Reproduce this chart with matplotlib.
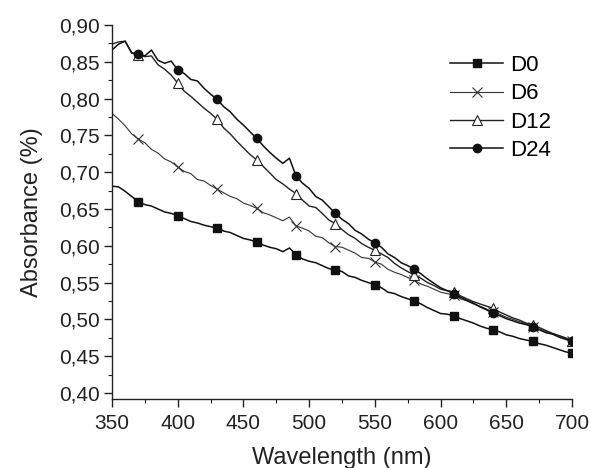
import numpy as np
import matplotlib
matplotlib.use('Agg')
import matplotlib.pyplot as plt
from matplotlib.ticker import MultipleLocator, FuncFormatter

plt.rcParams['font.family'] = ['Liberation Sans', 'DejaVu Sans']

# wavelength grid (nm), 5 nm steps
wavelength = np.arange(350, 701, 5)

d0 = [0.681, 0.680, 0.674, 0.667, 0.660, 0.656, 0.654, 0.650, 0.646, 0.644,
      0.641, 0.637, 0.633, 0.631, 0.628, 0.626, 0.624, 0.620, 0.618, 0.614,
      0.610, 0.608, 0.605, 0.601, 0.598, 0.596, 0.592, 0.597, 0.588, 0.582,
      0.579, 0.577, 0.573, 0.569, 0.567, 0.565, 0.559, 0.557, 0.553, 0.550,
      0.547, 0.543, 0.537, 0.535, 0.531, 0.528, 0.525, 0.521, 0.516, 0.512,
      0.508, 0.507, 0.505, 0.501, 0.498, 0.495, 0.491, 0.488, 0.486, 0.483,
      0.479, 0.477, 0.474, 0.472, 0.470, 0.467, 0.465, 0.462, 0.459, 0.456,
      0.454]

d6 = [0.780, 0.772, 0.763, 0.752, 0.745, 0.740, 0.731, 0.726, 0.718, 0.714,
      0.707, 0.701, 0.698, 0.690, 0.688, 0.682, 0.677, 0.672, 0.667, 0.664,
      0.658, 0.655, 0.651, 0.645, 0.642, 0.638, 0.634, 0.639, 0.627, 0.624,
      0.620, 0.613, 0.611, 0.604, 0.599, 0.598, 0.594, 0.590, 0.584, 0.583,
      0.578, 0.575, 0.568, 0.564, 0.561, 0.557, 0.553, 0.548, 0.545, 0.541,
      0.537, 0.535, 0.533, 0.528, 0.525, 0.521, 0.518, 0.514, 0.510, 0.507,
      0.503, 0.500, 0.497, 0.494, 0.490, 0.487, 0.484, 0.481, 0.478, 0.474,
      0.470]

d12 = [0.874, 0.877, 0.878, 0.862, 0.859, 0.857, 0.858, 0.846, 0.840, 0.832,
       0.821, 0.810, 0.803, 0.795, 0.787, 0.780, 0.772, 0.760, 0.752, 0.742,
       0.733, 0.724, 0.717, 0.708, 0.699, 0.690, 0.684, 0.677, 0.671, 0.662,
       0.654, 0.652, 0.644, 0.635, 0.630, 0.622, 0.615, 0.610, 0.603, 0.598,
       0.594, 0.589, 0.584, 0.576, 0.570, 0.565, 0.560, 0.556, 0.550, 0.546,
       0.541, 0.539, 0.537, 0.532, 0.528, 0.524, 0.521, 0.518, 0.515, 0.510,
       0.506, 0.502, 0.499, 0.495, 0.493, 0.489, 0.485, 0.481, 0.478, 0.475,
       0.471]

d24 = [0.866, 0.874, 0.878, 0.862, 0.861, 0.858, 0.866, 0.852, 0.848, 0.851,
       0.839, 0.834, 0.826, 0.824, 0.814, 0.806, 0.799, 0.789, 0.782, 0.772,
       0.764, 0.755, 0.746, 0.736, 0.727, 0.719, 0.712, 0.719, 0.695, 0.685,
       0.678, 0.667, 0.662, 0.653, 0.644, 0.636, 0.630, 0.621, 0.616, 0.609,
       0.604, 0.598, 0.589, 0.584, 0.577, 0.573, 0.568, 0.562, 0.555, 0.549,
       0.543, 0.539, 0.535, 0.530, 0.526, 0.522, 0.517, 0.513, 0.508, 0.505,
       0.501, 0.498, 0.495, 0.493, 0.490, 0.486, 0.482, 0.480, 0.476, 0.473,
       0.470]

labels = ['D0', 'D6', 'D12', 'D24']

fig = plt.figure(figsize=(5.9, 4.68), dpi=100)
# x axis sits a few px below the 0,40 tick (Origin style)
ax = fig.add_axes([112/590, 1-399/468, 460/590, 374/468])

mark_every = (4, 6)  # markers at 370, 400, ... 700
ax.plot(wavelength, d0, color='#111111', lw=1.1, marker='s', ms=5.5,
        mfc='#111111', mec='#111111', markevery=mark_every, label=labels[0])
ax.plot(wavelength, d6, color='#333333', lw=0.8, marker='x', ms=7, mew=0.8,
        markevery=mark_every, label=labels[1])
ax.plot(wavelength, d12, color='#222222', lw=1.0, marker='^', ms=6.5, mew=0.8,
        mfc='white', mec='#222222', markevery=mark_every, label=labels[2])
ax.plot(wavelength, d24, color='#111111', lw=1.1, marker='o', ms=6,
        mfc='#111111', mec='#111111', markevery=mark_every, label=labels[3])

ax.set_xlim(350, 700)
ax.set_ylim(0.3918, 0.90)
ax.xaxis.set_major_locator(MultipleLocator(50))
ax.xaxis.set_minor_locator(MultipleLocator(25))
ax.yaxis.set_major_locator(MultipleLocator(0.05))
ax.yaxis.set_minor_locator(MultipleLocator(0.025))
ax.yaxis.set_major_formatter(FuncFormatter(lambda v, p: f'{v:.2f}'.replace('.', ',')))

for s in ['top', 'right']:
    ax.spines[s].set_visible(False)
for s in ['left', 'bottom']:
    ax.spines[s].set_linewidth(1.0)
    ax.spines[s].set_color('#222222')

ax.tick_params(which='major', direction='out', length=5.5, width=1.0,
               labelsize=15, colors='#222222', labelcolor='#222222')
ax.tick_params(axis='x', which='major', pad=5)
ax.tick_params(which='minor', direction='out', length=3, width=0.8, colors='#222222')

ax.set_xlabel('Wavelength (nm)', fontsize=17, color='#222222', labelpad=10.5)
ax.set_ylabel('Absorbance (%)', fontsize=17, color='#222222', labelpad=11)

ax.legend(loc='upper left', bbox_to_anchor=(450/590, 1-55/468),
          bbox_transform=fig.transFigure, frameon=False, fontsize=16,
          handlelength=2.4, handletextpad=0.3, labelspacing=0.33,
          borderpad=0, borderaxespad=0)

fig.savefig('out.png', dpi=100)
